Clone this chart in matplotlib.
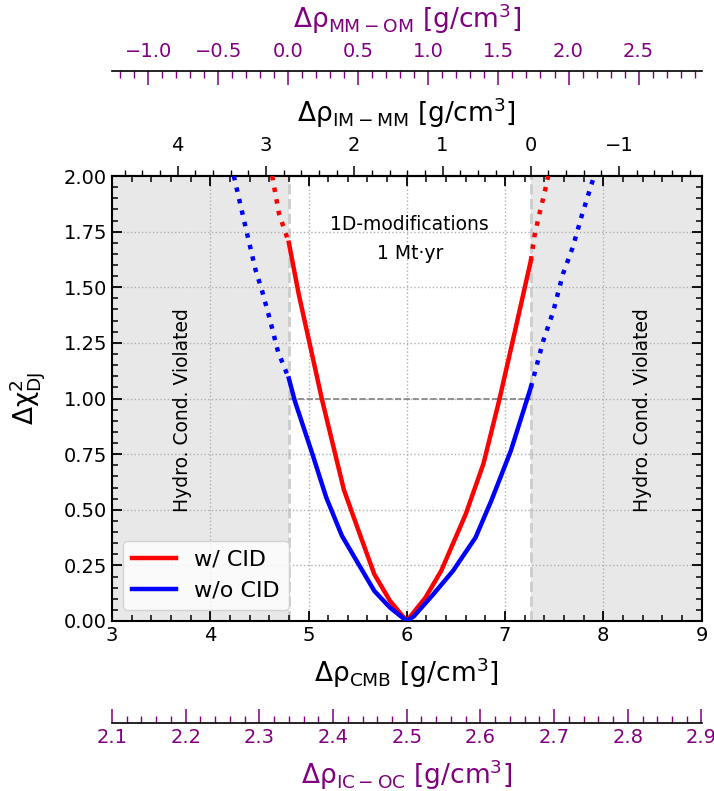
import numpy as np
import matplotlib
matplotlib.use("Agg")
import matplotlib.pyplot as plt
from matplotlib.ticker import MultipleLocator, FixedLocator

# ---------------- data ----------------
red_x = [4.63, 4.70, 4.80, 4.90, 5.03, 5.14, 5.36, 5.51, 5.67, 5.83, 6.00,
         6.19, 6.35, 6.60, 6.78, 6.94, 7.10, 7.263, 7.30, 7.35, 7.40, 7.44]
red_y = [2.00, 1.83, 1.70, 1.47, 1.21, 0.99, 0.59, 0.405, 0.21, 0.09, 0.00,
         0.105, 0.225, 0.48, 0.706, 0.99, 1.30, 1.62, 1.73, 1.83, 1.92, 2.00]

blue_x = [4.24, 4.37, 4.46, 4.53, 4.61, 4.69, 4.80, 4.86, 5.04, 5.18, 5.34,
          5.51, 5.67, 5.83, 6.00, 6.07, 6.27, 6.47, 6.70, 6.86, 7.06, 7.22,
          7.263, 7.39, 7.49, 7.59, 7.69, 7.78, 7.90]
blue_y = [2.00, 1.75, 1.58, 1.48, 1.35, 1.21, 1.09, 0.99, 0.75, 0.556, 0.383,
          0.255, 0.135, 0.06, 0.00, 0.02, 0.12, 0.225, 0.375, 0.54, 0.766, 0.99,
          1.05, 1.26, 1.39, 1.56, 1.68, 1.82, 1.99]

hydro_lo = 4.80    # lower hydrostatic bound on delta rho CMB
hydro_hi = 7.263   # upper hydrostatic bound

# relations between the secondary density axes and delta rho CMB
im_mm_zero, im_mm_slope = 7.263, 0.8985
mm_om_zero, mm_om_slope = 4.795, 1.4257
ic_oc_base, ic_oc_scale = 2.1, 7.5

im_mm_ticks = [4, 3, 2, 1, 0, -1]
mm_om_ticks = [-1.0, -0.5, 0.0, 0.5, 1.0, 1.5, 2.0, 2.5]

labels = ["w/ CID", "w/o CID"]

# ---------------- figure ----------------
W, H = 714, 791
L, R, T, B = 112, 701.5, 176, 621
fig = plt.figure(figsize=(W / 100, H / 100), dpi=100)
ax = fig.add_axes([L / W, 1 - B / H, (R - L) / W, (B - T) / H])

ax.set_xlim(3, 9)
ax.set_ylim(0, 2)

ax.axvspan(3, hydro_lo, color="#e8e8e8", lw=0, zorder=0.5)
ax.axvspan(hydro_hi, 9, color="#e8e8e8", lw=0, zorder=0.5)
ax.axvline(hydro_lo, color="#cccccc", ls="--", lw=2, zorder=1)
ax.axvline(hydro_hi, color="#cccccc", ls="--", lw=2, zorder=1)
ax.hlines(1.0, hydro_lo, hydro_hi, colors="gray", linestyles="--", lw=1.2, zorder=2)

ax.grid(True, which="major", ls=":", color="#b0b0b0", lw=1)


def draw(xs, ys, color, label):
    xs = np.asarray(xs)
    ys = np.asarray(ys)
    inside = (xs >= hydro_lo - 1e-9) & (xs <= hydro_hi + 1e-9)
    left = xs <= hydro_lo + 1e-9
    right = xs >= hydro_hi - 1e-9
    ax.plot(xs[inside], ys[inside], color=color, lw=3.2, label=label, zorder=3)
    ax.plot(xs[left], ys[left], color=color, lw=3.2, ls=":", zorder=3)
    ax.plot(xs[right], ys[right], color=color, lw=3.2, ls=":", zorder=3)


draw(red_x, red_y, "red", labels[0])
draw(blue_x, blue_y, "blue", labels[1])

ax.xaxis.set_major_locator(MultipleLocator(1))
ax.xaxis.set_minor_locator(MultipleLocator(0.2))
ax.yaxis.set_major_locator(MultipleLocator(0.25))
ax.yaxis.set_minor_locator(MultipleLocator(0.05))
ax.yaxis.set_major_formatter(matplotlib.ticker.FormatStrFormatter("%.2f"))
ax.tick_params(which="both", direction="in", top=True, right=True, labelsize=14)
ax.tick_params(which="major", length=7, width=1.3)
ax.tick_params(which="minor", length=4, width=1.1)
for s in ax.spines.values():
    s.set_linewidth(1.5)

ax.set_xlabel(r"$\Delta\mathrm{\rho}_\mathrm{CMB}$ [g/cm$^3$]", fontsize=19, labelpad=8)
ax.set_ylabel(r"$\Delta\mathrm{\chi}^2_\mathrm{DJ}$", fontsize=19, labelpad=12)

ax.text(3.72, 0.95, "Hydro. Cond. Violated", rotation=90, ha="center", va="center", fontsize=13.5)
ax.text(8.40, 0.95, "Hydro. Cond. Violated", rotation=90, ha="center", va="center", fontsize=13.5)
ax.text(6.03, 1.78, "1D-modifications", ha="center", va="center", fontsize=13.5)
ax.text(6.03, 1.65, "1 Mt\u00b7yr", ha="center", va="center", fontsize=13.5)

leg = ax.legend(loc="lower left", fontsize=16, handlelength=2.0, borderaxespad=0.5,
                framealpha=0.8)

# IM-MM secondary axis (top)
sec1 = ax.secondary_xaxis("top", functions=(lambda x: (im_mm_zero - x) / im_mm_slope,
                                            lambda v: im_mm_zero - im_mm_slope * v))
sec1.xaxis.set_major_locator(FixedLocator(im_mm_ticks))
sec1.xaxis.set_minor_locator(MultipleLocator(0.2))
sec1.tick_params(which="both", direction="out", labelsize=14)
sec1.tick_params(which="major", length=7, width=1.1, pad=8)
sec1.tick_params(which="minor", length=4, width=1.0)
sec1.set_xlabel(r"$\Delta\mathrm{\rho}_\mathrm{IM-MM}$ [g/cm$^3$]", fontsize=19, labelpad=10)
sec1.spines["top"].set_linewidth(1.5)

purple = "purple"
# MM-OM secondary axis (further up)
loc2 = 1 + (T - 71) / (B - T)
sec2 = ax.secondary_xaxis(loc2, functions=(lambda x: (x - mm_om_zero) / mm_om_slope,
                                           lambda v: mm_om_zero + mm_om_slope * v))
sec2.xaxis.set_major_locator(FixedLocator(mm_om_ticks))
sec2.xaxis.set_minor_locator(MultipleLocator(0.1))
sec2.tick_params(which="both", direction="in", colors=purple, labelsize=14)
sec2.tick_params(which="major", length=10, width=1.1, pad=7)
sec2.tick_params(which="minor", length=5, width=1.0)
sec2.set_xlabel(r"$\Delta\mathrm{\rho}_\mathrm{MM-OM}$ [g/cm$^3$]", fontsize=19, color=purple, labelpad=10)
for s in sec2.spines.values():
    s.set_color("black")
    s.set_linewidth(1.2)

# IC-OC secondary axis (bottom, offset)
loc3 = -(723 - B) / (B - T)
sec3 = ax.secondary_xaxis(loc3, functions=(lambda x: ic_oc_base + (x - 3) / ic_oc_scale,
                                           lambda v: 3 + (v - ic_oc_base) * ic_oc_scale))
sec3.xaxis.set_major_locator(MultipleLocator(0.1))
sec3.xaxis.set_minor_locator(MultipleLocator(0.02))
sec3.tick_params(which="both", direction="in", colors=purple, labelsize=14)
sec3.tick_params(which="major", length=10, width=1.1)
sec3.tick_params(which="minor", length=5, width=1.0)
sec3.set_xlabel(r"$\Delta\mathrm{\rho}_\mathrm{IC-OC}$ [g/cm$^3$]", fontsize=19, color=purple, labelpad=8)
for s in sec3.spines.values():
    s.set_color("black")
    s.set_linewidth(1.2)

fig.savefig("out.png", dpi=100)
